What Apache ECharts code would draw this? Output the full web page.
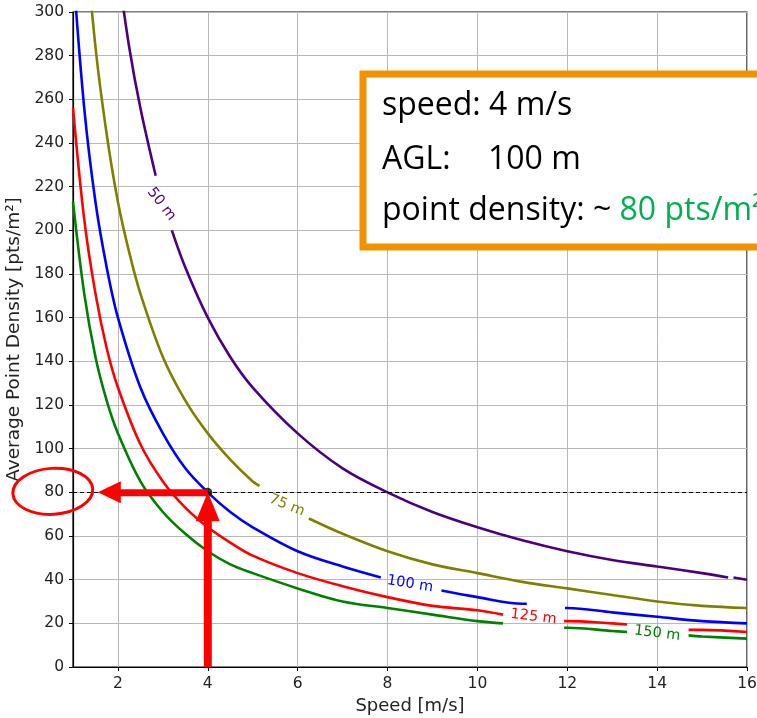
<!DOCTYPE html>
<html>
<head>
<meta charset="utf-8">
<script src="https://cdn.jsdelivr.net/npm/echarts@6/dist/echarts.min.js"></script>
<style>
  html, body { margin: 0; padding: 0; background: #fff; }
  #chart { width: 757px; height: 718px; }
</style>
</head>
<body>
<div id="chart"></div>
<script>
// speed [m/s] / density [pts/m²]; null = gap in the line (contour label)
const speed50 = [2, 2.25, 2.5, 2.84, null, 3.2, 3.5, 4, 4.5, 5, 6, 7, 8, 9, 10, 11, 12, 13, 14, 15, 15.58, null, 15.7, 16];
const dens50  = [320, 284, 256, 225, null, 200, 183, 160, 142, 128, 107, 91, 80, 71, 64, 58, 53, 49, 46, 43, 41, null, 41, 40];

const speed75 = [1.25, 1.5, 1.75, 2, 2.25, 2.5, 3, 3.5, 4, 4.5, 5, 5.15, null, 6.25, 7, 8, 9, 10, 11, 12, 13, 14, 15, 16];
const dens75  = [341, 284, 244, 213, 190, 171, 142, 122, 107, 95, 85, 83, null, 68, 61, 53, 47, 43, 39, 36, 33, 30, 28, 27];

const speed100 = [1, 1.25, 1.5, 1.75, 2, 2.5, 3, 3.5, 4, 4.5, 5, 6, 7, 7.85, null, 9.2, 10, 11, 11.1, null, 11.95, 12, 13, 14, 15, 16];
const dens100  = [320, 256, 213, 183, 160, 128, 107, 91, 80, 71, 64, 53, 46, 41, null, 35, 32, 29, 29, null, 27, 27, 25, 23, 21, 20];

const speed125 = [1, 1.25, 1.5, 1.75, 2, 2.5, 3, 3.5, 4, 4.5, 5, 6, 7, 8, 9, 10, 10.57, null, 11.93, 12, 13, 13.33, null, 14.7, 15, 16];
const dens125  = [256, 205, 171, 146, 128, 102, 85, 73, 64, 57, 51, 43, 37, 32, 28, 26, 24, null, 21, 21, 20, 19.5, null, 17, 17, 16];

const speed150 = [1, 1.25, 1.5, 1.75, 2, 2.5, 3, 3.5, 4, 4.5, 5, 6, 7, 8, 9, 10, 10.57, null, 11.93, 12, 13, 13.33, null, 14.7, 15, 16];
const dens150  = [213, 171, 142, 122, 107, 85, 71, 61, 53, 47, 43, 36, 30, 27, 24, 21, 20, null, 18, 18, 16.5, 16, null, 14.5, 14, 13];

const xTicks = [2, 4, 6, 8, 10, 12, 14, 16];

// inline contour labels
const labelText  = ['50 m', '75 m', '100 m', '125 m', '150 m'];
const labelSpeed = [2.97, 5.76, 8.5, 11.25, 14.0];
const labelDens  = [212, 74, 38, 23, 15.4];
const labelAngle = [-52, -22, -9, -7, -7];

// marked reading: speed 4 m/s -> 80 pts/m²
const pickSpeed = 4;
const pickDens = 80;

const colors = ['#4b0082', '#808000', '#0000ff', '#ff0000', '#008000'];
const speeds = [speed50, speed75, speed100, speed125, speed150];
const dens = [dens50, dens75, dens100, dens125, dens150];

const chart = echarts.init(document.getElementById('chart'));

function toData(xs, ys) {
  return xs.map((x, i) => (x === null ? ['-', '-'] : [x, ys[i]]));
}

const font = 'DejaVu Sans';

const option = {
  animation: false,
  grid: {
    left: 73, top: 12, right: 10, bottom: 51,
    outerBoundsMode: 'none',
    containLabel: false,
    show: true, borderColor: '#000', borderWidth: 1.2, backgroundColor: 'transparent',
  },
  xAxis: {
    type: 'value',
    min: 1,
    max: 16,
    name: 'Speed [m/s]',
    nameLocation: 'middle',
    nameGap: 29,
    nameTextStyle: { fontFamily: font, fontSize: 18, color: '#222' },
    axisLine: { show: true, lineStyle: { color: '#000', width: 1.2 } },
    axisTick: { show: true, inside: false, length: 4, customValues: xTicks, lineStyle: { color: '#000' } },
    axisLabel: { customValues: xTicks, margin: 9, fontFamily: font, fontSize: 15.5, color: '#222' },
    splitLine: { show: true, lineStyle: { color: '#b8b8b8', width: 1 } },
  },
  yAxis: {
    type: 'value',
    min: 0,
    max: 300,
    interval: 20,
    name: 'Average Point Density [pts/m²]',
    nameLocation: 'middle',
    nameGap: 41,
    nameTextStyle: { fontFamily: font, fontSize: 18.5, color: '#222' },
    axisLine: { show: true, lineStyle: { color: '#000', width: 1.2 } },
    axisTick: { show: true, length: 4, lineStyle: { color: '#000' } },
    axisLabel: { margin: 9, fontFamily: font, fontSize: 15.5, color: '#222' },
    splitLine: { show: true, lineStyle: { color: '#b8b8b8', width: 1 } },
  },
  series: speeds.map((xs, i) => ({
    name: labelText[i],
    type: 'line',
    data: toData(xs, dens[i]),
    showSymbol: false,
    connectNulls: false,
    smooth: 0.35,
    clip: true,
    lineStyle: { color: colors[i], width: 2.6 },
    z: 3,
    markLine: i === 2 ? {
      silent: true,
      symbol: 'none',
      label: { show: false },
      lineStyle: { color: '#000', type: [4, 3], width: 1.2 },
      data: [{ yAxis: pickDens }],
    } : undefined,
  })).concat([{
    type: 'scatter',
    data: [[pickSpeed, pickDens]],
    symbolSize: 9,
    itemStyle: { color: '#000' },
    z: 4,
  }]),
};

chart.setOption(option);

// annotations placed through the chart's own scale
const px = (x, y) => chart.convertToPixel({ gridIndex: 0 }, [x, y]);
const graphics = [];

labelText.forEach((t, i) => {
  const p = px(labelSpeed[i], labelDens[i]);
  graphics.push({
    type: 'text', x: p[0], y: p[1], rotation: labelAngle[i] * Math.PI / 180, z: 10,
    style: { text: t, fill: colors[i], font: '14.5px ' + font, align: 'center', verticalAlign: 'middle' },
  });
});

const dot = px(pickSpeed, pickDens);
const base = px(pickSpeed, 0);
const red = '#ff0000';

// vertical arrow up to the reading
graphics.push({ type: 'rect', z: 20, shape: { x: dot[0] - 4, y: dot[1] + 28, width: 8, height: base[1] - dot[1] - 28 }, style: { fill: red } });
graphics.push({ type: 'polygon', z: 20, shape: { points: [[dot[0] - 12, dot[1] + 29], [dot[0] + 12, dot[1] + 29], [dot[0], dot[1]]] }, style: { fill: red } });
// horizontal arrow to the y axis
graphics.push({ type: 'rect', z: 20, shape: { x: dot[0] - 88, y: dot[1] - 3, width: 88, height: 7 }, style: { fill: red } });
graphics.push({ type: 'polygon', z: 20, shape: { points: [[dot[0] - 87, dot[1] - 11], [dot[0] - 87, dot[1] + 11], [dot[0] - 110, dot[1]]] }, style: { fill: red } });
// hand drawn circle around the 80 tick label
graphics.push({
  type: 'ellipse', z: 20, x: dot[0] - 155, y: dot[1] - 1, rotation: 0.06,
  shape: { cx: 0, cy: 0, rx: 40, ry: 23 },
  style: { fill: 'none', stroke: red, lineWidth: 3 },
});

// orange info box
graphics.push({ type: 'rect', z: 30, shape: { x: 363, y: 74, width: 420, height: 173 }, style: { fill: '#fff', stroke: '#f39200', lineWidth: 7 } });
const boxFont = '32px "Open Sans"';
graphics.push({ type: 'text', z: 31, x: 382, y: 106, style: { text: 'speed: 4 m/s', font: boxFont, fill: '#000', verticalAlign: 'middle' } });
graphics.push({ type: 'text', z: 31, x: 382, y: 160, style: { text: 'AGL:', font: boxFont, fill: '#000', verticalAlign: 'middle' } });
graphics.push({ type: 'text', z: 31, x: 488, y: 160, style: { text: '100 m', font: boxFont, fill: '#000', verticalAlign: 'middle' } });
graphics.push({
  type: 'text', z: 31, x: 382, y: 211,
  style: {
    text: '{a|point density: ~ }{b|80 pts/m²}',
    verticalAlign: 'middle',
    rich: {
      a: { font: boxFont, fill: '#000', color: '#000' },
      b: { font: boxFont, fill: '#00b050', color: '#00b050' },
    },
  },
});

chart.setOption({ graphic: graphics });
</script>
</body>
</html>
